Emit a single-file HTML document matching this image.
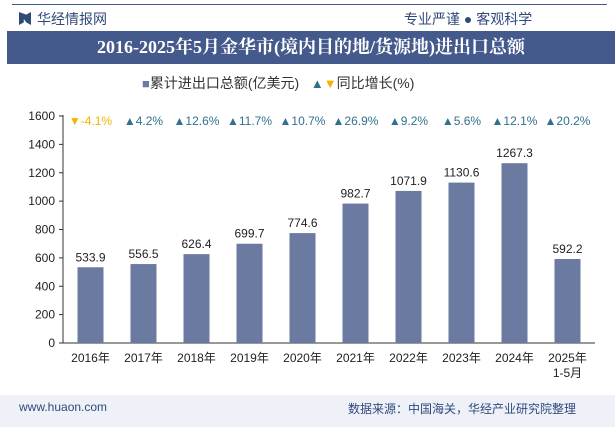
<!DOCTYPE html>
<html><head><meta charset="utf-8"><style>
body{margin:0;width:615px;height:427px;background:#fff;font-family:"Liberation Sans","Noto Sans CJK SC",sans-serif;overflow:hidden;position:relative}
.a{position:absolute;white-space:nowrap}
</style></head><body>
<div class="a" style="left:12px;top:4px;width:595px;height:1px;background:#44598c"></div>
<div class="a" style="left:19px;top:12px;width:12px;height:13px;background:#2f4a7a;clip-path:polygon(0 0,40% 20%,40% 80%,0 100%,0 0,60% 20%,100% 0,100% 100%,60% 80%)"></div>
<div class="a" style="left:37px;top:9px;font-size:14px;color:#2f4a7a">华经情报网</div>
<div class="a" style="left:404px;top:9px;font-size:14px;color:#2f4a7a">专业严谨 ● 客观科学</div>
<div class="a" style="left:7px;top:31px;width:608px;height:33px;background:#44598c;color:#fff;font-family:'Liberation Serif','Noto Serif CJK SC',serif;font-weight:bold;font-size:18px;line-height:33px;text-align:center">2016-2025年5月金华市(境内目的地/货源地)进出口总额</div>
<div class="a" style="left:142px;top:73px;font-size:14px;color:#333"><span style="color:#6a7ba3;font-size:13px">■</span>累计进出口总额(亿美元) &nbsp; <span style="color:#31708f;font-size:13px">▲</span><span style="color:#f0b400;font-size:13px">▼</span>同比增长(%)</div>
<svg class="a" style="left:0;top:0" width="615" height="427">
<g id="g"></g></svg>
<div class="a" style="left:0;top:395px;width:615px;height:32px;background:#eef1f7"></div>
<div class="a" style="left:19px;top:400px;font-size:12px;color:#2f4a7a">www.huaon.com</div>
<div class="a" style="left:348px;top:400px;font-size:12px;color:#2f4a7a">数据来源：中国海关，华经产业研究院整理</div>
<script>
const categories=["2016年","2017年","2018年","2019年","2020年","2021年","2022年","2023年","2024年","2025年\n1-5月"];
const values=[533.9,556.5,626.4,699.7,774.6,982.7,1071.9,1130.6,1267.3,592.2];
const growth=["-4.1%","4.2%","12.6%","11.7%","10.7%","26.9%","9.2%","5.6%","12.1%","20.2%"];
const ticks=[0,200,400,600,800,1000,1200,1400,1600];
const g=document.getElementById('g');const NS='http://www.w3.org/2000/svg';
const y=v=>343-v*227/1600, bx=i=>64+53*i+26.5;
function mk(t,a,txt){const e=document.createElementNS(NS,t);for(const k in a)e.setAttribute(k,a[k]);if(txt!=null)e.textContent=txt;g.appendChild(e);return e;}
let e=mk('line',{x1:63,y1:115,x2:63,y2:343,stroke:'#333'});
e=mk('line',{x1:63,y1:343,x2:595,y2:343,stroke:'#333'});
ticks.forEach(t=>{const l=mk('line',{x1:59,x2:63,y1:y(t),y2:y(t),stroke:'#333'});
const tx=mk('text',{x:55,y:y(t)+4,'text-anchor':'end','font-size':12,fill:'#222'},t);});
categories.forEach((c,i)=>{const cx=bx(i);
const r=mk('rect',{x:cx-13,y:y(values[i]),width:26,height:343-y(values[i]),fill:'#6b7aa1'});
const v=mk('text',{x:cx,y:y(values[i])-6,'text-anchor':'middle','font-size':12,fill:'#222'},values[i].toFixed(1));
c.split('\n').forEach((p,j)=>{const t=mk('text',{x:cx,y:362+j*15,'text-anchor':'middle','font-size':12,fill:'#222'},p);});
const neg=growth[i][0]==='-';
const gt=mk('text',{x:cx,y:125,'text-anchor':'middle','font-size':12,fill:neg?'#f0b400':'#31708f'},(neg?'▼':'▲')+growth[i]);
});
</script>
</body></html>
